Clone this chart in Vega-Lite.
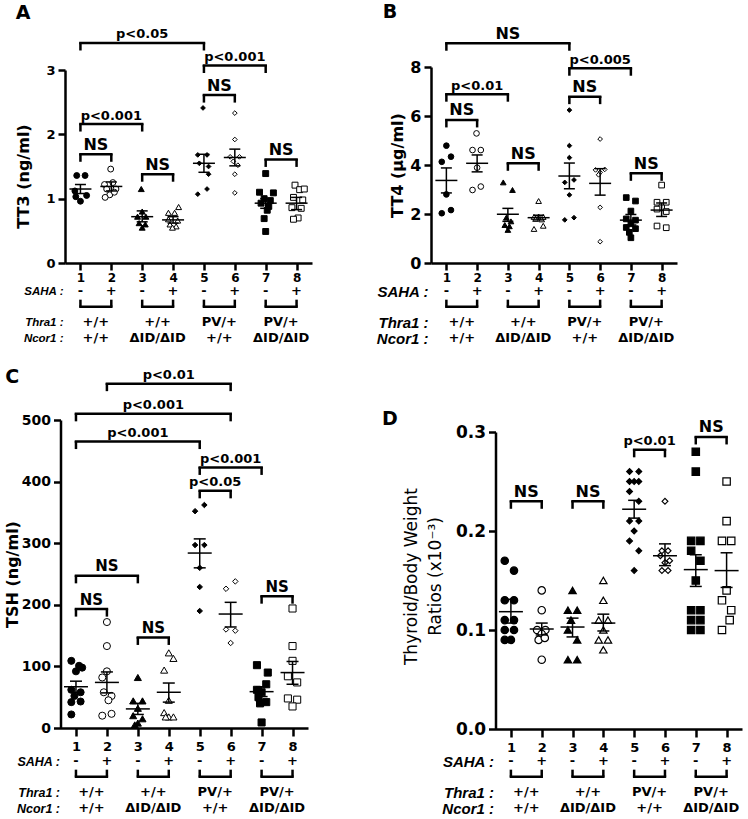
{
  "$schema": "https://vega.github.io/schema/vega-lite/v6.json",
  "width": 748,
  "height": 819,
  "autosize": {"type": "none"},
  "padding": 0,
  "background": "white",
  "config": {
    "view": {"stroke": null},
    "font": "DejaVu Sans",
    "axis": {"grid": false, "domainColor": "black", "domainWidth": 2.5, "tickColor": "black", "tickWidth": 2.5, "tickSize": 7, "labelColor": "black", "labelFont": "DejaVu Sans", "labelFontWeight": "bold", "titleColor": "black", "titleFont": "DejaVu Sans", "titleFontWeight": "bold", "labelPadding": 3, "labelFlush": false, "labelOverlap": false},
    "text": {"font": "DejaVu Sans", "fontWeight": "bold", "color": "black"},
    "tick": {"opacity": 1, "color": "black"},
    "rule": {"color": "black"},
    "point": {"opacity": 1}
  },
  "datasets": {
    "pts": [
      {"panel":"A","geno":"WT","saha":"-","x":0.88,"v":1.36},{"panel":"A","geno":"WT","saha":"-","x":1.15,"v":1.36},{"panel":"A","geno":"WT","saha":"-","x":0.82,"v":1.12},{"panel":"A","geno":"WT","saha":"-","x":1.2,"v":1.05},{"panel":"A","geno":"WT","saha":"-","x":0.85,"v":1.03},{"panel":"A","geno":"WT","saha":"-","x":1.0,"v":0.96},
      {"panel":"A","geno":"WT","saha":"+","x":1.98,"v":1.46},{"panel":"A","geno":"WT","saha":"+","x":1.78,"v":1.22},{"panel":"A","geno":"WT","saha":"+","x":2.05,"v":1.25},{"panel":"A","geno":"WT","saha":"+","x":1.85,"v":1.15},{"panel":"A","geno":"WT","saha":"+","x":2.15,"v":1.15},{"panel":"A","geno":"WT","saha":"+","x":1.95,"v":1.06},{"panel":"A","geno":"WT","saha":"+","x":1.8,"v":1.02},{"panel":"A","geno":"WT","saha":"+","x":2.1,"v":1.1},
      {"panel":"A","geno":"ID","saha":"-","x":2.97,"v":1.15},{"panel":"A","geno":"ID","saha":"-","x":3.0,"v":0.8},{"panel":"A","geno":"ID","saha":"-","x":2.85,"v":0.72},{"panel":"A","geno":"ID","saha":"-","x":3.12,"v":0.72},{"panel":"A","geno":"ID","saha":"-","x":2.9,"v":0.62},{"panel":"A","geno":"ID","saha":"-","x":3.1,"v":0.6},{"panel":"A","geno":"ID","saha":"-","x":3.0,"v":0.55},
      {"panel":"A","geno":"ID","saha":"+","x":4.18,"v":0.87},{"panel":"A","geno":"ID","saha":"+","x":3.85,"v":0.78},{"panel":"A","geno":"ID","saha":"+","x":4.05,"v":0.78},{"panel":"A","geno":"ID","saha":"+","x":4.15,"v":0.66},{"panel":"A","geno":"ID","saha":"+","x":3.9,"v":0.6},{"panel":"A","geno":"ID","saha":"+","x":4.1,"v":0.57},{"panel":"A","geno":"ID","saha":"+","x":3.98,"v":0.55},{"panel":"A","geno":"ID","saha":"+","x":3.85,"v":0.68},
      {"panel":"A","geno":"PV","saha":"-","x":4.97,"v":2.41},{"panel":"A","geno":"PV","saha":"-","x":4.8,"v":1.68},{"panel":"A","geno":"PV","saha":"-","x":5.1,"v":1.68},{"panel":"A","geno":"PV","saha":"-","x":4.85,"v":1.55},{"panel":"A","geno":"PV","saha":"-","x":5.15,"v":1.5},{"panel":"A","geno":"PV","saha":"-","x":5.15,"v":1.38},{"panel":"A","geno":"PV","saha":"-","x":4.8,"v":1.07},{"panel":"A","geno":"PV","saha":"-","x":5.1,"v":1.15},
      {"panel":"A","geno":"PV","saha":"+","x":6.0,"v":2.33},{"panel":"A","geno":"PV","saha":"+","x":6.0,"v":1.92},{"panel":"A","geno":"PV","saha":"+","x":5.85,"v":1.65},{"panel":"A","geno":"PV","saha":"+","x":6.15,"v":1.65},{"panel":"A","geno":"PV","saha":"+","x":5.95,"v":1.58},{"panel":"A","geno":"PV","saha":"+","x":6.1,"v":1.52},{"panel":"A","geno":"PV","saha":"+","x":6.0,"v":1.38},{"panel":"A","geno":"PV","saha":"+","x":6.0,"v":1.09},
      {"panel":"A","geno":"PVID","saha":"-","x":7.0,"v":1.39},{"panel":"A","geno":"PVID","saha":"-","x":6.8,"v":1.1},{"panel":"A","geno":"PVID","saha":"-","x":7.25,"v":1.09},{"panel":"A","geno":"PVID","saha":"-","x":6.95,"v":1.0},{"panel":"A","geno":"PVID","saha":"-","x":7.15,"v":0.97},{"panel":"A","geno":"PVID","saha":"-","x":6.85,"v":0.93},{"panel":"A","geno":"PVID","saha":"-","x":7.1,"v":0.88},{"panel":"A","geno":"PVID","saha":"-","x":7.05,"v":0.82},{"panel":"A","geno":"PVID","saha":"-","x":6.95,"v":0.69},{"panel":"A","geno":"PVID","saha":"-","x":7.0,"v":0.49},
      {"panel":"A","geno":"PVID","saha":"+","x":7.95,"v":1.21},{"panel":"A","geno":"PVID","saha":"+","x":8.1,"v":1.14},{"panel":"A","geno":"PVID","saha":"+","x":8.25,"v":1.15},{"panel":"A","geno":"PVID","saha":"+","x":7.9,"v":1.02},{"panel":"A","geno":"PVID","saha":"+","x":8.2,"v":0.98},{"panel":"A","geno":"PVID","saha":"+","x":7.85,"v":0.86},{"panel":"A","geno":"PVID","saha":"+","x":8.15,"v":0.85},{"panel":"A","geno":"PVID","saha":"+","x":8.05,"v":0.7},{"panel":"A","geno":"PVID","saha":"+","x":7.9,"v":0.68},

      {"panel":"B","geno":"WT","saha":"-","x":1.0,"v":4.79},{"panel":"B","geno":"WT","saha":"-","x":1.15,"v":4.34},{"panel":"B","geno":"WT","saha":"-","x":0.85,"v":4.13},{"panel":"B","geno":"WT","saha":"-","x":1.0,"v":2.8},{"panel":"B","geno":"WT","saha":"-","x":0.85,"v":2.03},{"panel":"B","geno":"WT","saha":"-","x":1.15,"v":2.16},
      {"panel":"B","geno":"WT","saha":"+","x":1.98,"v":5.29},{"panel":"B","geno":"WT","saha":"+","x":1.85,"v":4.61},{"panel":"B","geno":"WT","saha":"+","x":2.12,"v":4.61},{"panel":"B","geno":"WT","saha":"+","x":2.0,"v":3.89},{"panel":"B","geno":"WT","saha":"+","x":1.85,"v":2.98},{"panel":"B","geno":"WT","saha":"+","x":2.12,"v":3.12},
      {"panel":"B","geno":"ID","saha":"-","x":2.85,"v":3.29},{"panel":"B","geno":"ID","saha":"-","x":3.15,"v":2.98},{"panel":"B","geno":"ID","saha":"-","x":2.95,"v":1.85},{"panel":"B","geno":"ID","saha":"-","x":3.1,"v":1.7},{"panel":"B","geno":"ID","saha":"-","x":2.9,"v":1.55},{"panel":"B","geno":"ID","saha":"-","x":3.05,"v":1.5},{"panel":"B","geno":"ID","saha":"-","x":3.0,"v":1.35},
      {"panel":"B","geno":"ID","saha":"+","x":4.0,"v":2.53},{"panel":"B","geno":"ID","saha":"+","x":3.85,"v":1.88},{"panel":"B","geno":"ID","saha":"+","x":4.0,"v":1.9},{"panel":"B","geno":"ID","saha":"+","x":4.15,"v":1.88},{"panel":"B","geno":"ID","saha":"+","x":3.9,"v":1.8},{"panel":"B","geno":"ID","saha":"+","x":4.1,"v":1.78},{"panel":"B","geno":"ID","saha":"+","x":3.85,"v":1.39},{"panel":"B","geno":"ID","saha":"+","x":4.15,"v":1.52},
      {"panel":"B","geno":"PV","saha":"-","x":5.0,"v":6.24},{"panel":"B","geno":"PV","saha":"-","x":5.0,"v":4.79},{"panel":"B","geno":"PV","saha":"-","x":5.0,"v":4.3},{"panel":"B","geno":"PV","saha":"-","x":4.85,"v":3.29},{"panel":"B","geno":"PV","saha":"-","x":5.15,"v":3.39},{"panel":"B","geno":"PV","saha":"-","x":5.0,"v":2.78},{"panel":"B","geno":"PV","saha":"-","x":4.85,"v":1.76},{"panel":"B","geno":"PV","saha":"-","x":5.15,"v":1.85},
      {"panel":"B","geno":"PV","saha":"+","x":6.0,"v":5.06},{"panel":"B","geno":"PV","saha":"+","x":5.85,"v":3.8},{"panel":"B","geno":"PV","saha":"+","x":6.15,"v":3.82},{"panel":"B","geno":"PV","saha":"+","x":6.0,"v":3.7},{"panel":"B","geno":"PV","saha":"+","x":5.95,"v":3.6},{"panel":"B","geno":"PV","saha":"+","x":6.0,"v":2.27},{"panel":"B","geno":"PV","saha":"+","x":6.0,"v":0.87},
      {"panel":"B","geno":"PVID","saha":"-","x":6.85,"v":2.67},{"panel":"B","geno":"PVID","saha":"-","x":7.15,"v":2.53},{"panel":"B","geno":"PVID","saha":"-","x":7.0,"v":2.12},{"panel":"B","geno":"PVID","saha":"-","x":6.85,"v":1.8},{"panel":"B","geno":"PVID","saha":"-","x":7.15,"v":1.75},{"panel":"B","geno":"PVID","saha":"-","x":7.0,"v":1.6},{"panel":"B","geno":"PVID","saha":"-","x":6.85,"v":1.45},{"panel":"B","geno":"PVID","saha":"-","x":7.15,"v":1.4},{"panel":"B","geno":"PVID","saha":"-","x":6.95,"v":1.25},{"panel":"B","geno":"PVID","saha":"-","x":7.0,"v":1.03},
      {"panel":"B","geno":"PVID","saha":"+","x":8.0,"v":3.18},{"panel":"B","geno":"PVID","saha":"+","x":7.85,"v":2.48},{"panel":"B","geno":"PVID","saha":"+","x":8.15,"v":2.48},{"panel":"B","geno":"PVID","saha":"+","x":8.0,"v":2.25},{"panel":"B","geno":"PVID","saha":"+","x":7.85,"v":2.2},{"panel":"B","geno":"PVID","saha":"+","x":8.15,"v":2.1},{"panel":"B","geno":"PVID","saha":"+","x":7.85,"v":1.51},{"panel":"B","geno":"PVID","saha":"+","x":8.15,"v":1.44},

      {"panel":"C","geno":"WT","saha":"-","x":0.85,"v":109},{"panel":"C","geno":"WT","saha":"-","x":1.1,"v":101},{"panel":"C","geno":"WT","saha":"-","x":1.2,"v":98},{"panel":"C","geno":"WT","saha":"-","x":1.0,"v":92},{"panel":"C","geno":"WT","saha":"-","x":0.85,"v":62},{"panel":"C","geno":"WT","saha":"-","x":1.15,"v":58},{"panel":"C","geno":"WT","saha":"-","x":0.95,"v":52},{"panel":"C","geno":"WT","saha":"-","x":1.15,"v":43},{"panel":"C","geno":"WT","saha":"-","x":0.85,"v":42},{"panel":"C","geno":"WT","saha":"-","x":0.85,"v":22},
      {"panel":"C","geno":"WT","saha":"+","x":2.0,"v":172},{"panel":"C","geno":"WT","saha":"+","x":2.0,"v":133},{"panel":"C","geno":"WT","saha":"+","x":2.0,"v":92},{"panel":"C","geno":"WT","saha":"+","x":1.85,"v":82},{"panel":"C","geno":"WT","saha":"+","x":1.9,"v":58},{"panel":"C","geno":"WT","saha":"+","x":2.15,"v":52},{"panel":"C","geno":"WT","saha":"+","x":2.05,"v":45},{"panel":"C","geno":"WT","saha":"+","x":1.85,"v":20},{"panel":"C","geno":"WT","saha":"+","x":2.15,"v":23},
      {"panel":"C","geno":"ID","saha":"-","x":3.0,"v":82},{"panel":"C","geno":"ID","saha":"-","x":2.85,"v":44},{"panel":"C","geno":"ID","saha":"-","x":3.15,"v":44},{"panel":"C","geno":"ID","saha":"-","x":3.0,"v":32},{"panel":"C","geno":"ID","saha":"-","x":2.85,"v":20},{"panel":"C","geno":"ID","saha":"-","x":3.15,"v":15},{"panel":"C","geno":"ID","saha":"-","x":3.0,"v":8},{"panel":"C","geno":"ID","saha":"-","x":2.9,"v":5},
      {"panel":"C","geno":"ID","saha":"+","x":4.0,"v":122},{"panel":"C","geno":"ID","saha":"+","x":4.15,"v":113},{"panel":"C","geno":"ID","saha":"+","x":3.85,"v":94},{"panel":"C","geno":"ID","saha":"+","x":4.0,"v":45},{"panel":"C","geno":"ID","saha":"+","x":3.85,"v":25},{"panel":"C","geno":"ID","saha":"+","x":4.0,"v":18},{"panel":"C","geno":"ID","saha":"+","x":4.15,"v":18},{"panel":"C","geno":"ID","saha":"+","x":3.9,"v":18},
      {"panel":"C","geno":"PV","saha":"-","x":4.85,"v":352},{"panel":"C","geno":"PV","saha":"-","x":5.15,"v":362},{"panel":"C","geno":"PV","saha":"-","x":4.85,"v":297},{"panel":"C","geno":"PV","saha":"-","x":5.15,"v":297},{"panel":"C","geno":"PV","saha":"-","x":5.0,"v":260},{"panel":"C","geno":"PV","saha":"-","x":5.0,"v":229},{"panel":"C","geno":"PV","saha":"-","x":5.0,"v":190},
      {"panel":"C","geno":"PV","saha":"+","x":5.85,"v":226},{"panel":"C","geno":"PV","saha":"+","x":6.15,"v":238},{"panel":"C","geno":"PV","saha":"+","x":5.85,"v":160},{"panel":"C","geno":"PV","saha":"+","x":6.15,"v":158},{"panel":"C","geno":"PV","saha":"+","x":6.0,"v":138},
      {"panel":"C","geno":"PVID","saha":"-","x":6.85,"v":102},{"panel":"C","geno":"PVID","saha":"-","x":7.2,"v":90},{"panel":"C","geno":"PVID","saha":"-","x":7.15,"v":71},{"panel":"C","geno":"PVID","saha":"-","x":6.85,"v":62},{"panel":"C","geno":"PVID","saha":"-","x":7.0,"v":58},{"panel":"C","geno":"PVID","saha":"-","x":6.9,"v":50},{"panel":"C","geno":"PVID","saha":"-","x":7.15,"v":42},{"panel":"C","geno":"PVID","saha":"-","x":6.95,"v":40},{"panel":"C","geno":"PVID","saha":"-","x":7.0,"v":9},
      {"panel":"C","geno":"PVID","saha":"+","x":8.0,"v":194},{"panel":"C","geno":"PVID","saha":"+","x":8.0,"v":133},{"panel":"C","geno":"PVID","saha":"+","x":8.0,"v":109},{"panel":"C","geno":"PVID","saha":"+","x":7.85,"v":84},{"panel":"C","geno":"PVID","saha":"+","x":8.15,"v":74},{"panel":"C","geno":"PVID","saha":"+","x":7.85,"v":48},{"panel":"C","geno":"PVID","saha":"+","x":8.15,"v":46},{"panel":"C","geno":"PVID","saha":"+","x":8.0,"v":35},

      {"panel":"D","geno":"WT","saha":"-","x":0.8,"v":0.17},{"panel":"D","geno":"WT","saha":"-","x":1.1,"v":0.16},{"panel":"D","geno":"WT","saha":"-","x":0.8,"v":0.13},{"panel":"D","geno":"WT","saha":"-","x":1.1,"v":0.13},{"panel":"D","geno":"WT","saha":"-","x":0.8,"v":0.11},{"panel":"D","geno":"WT","saha":"-","x":1.1,"v":0.11},{"panel":"D","geno":"WT","saha":"-","x":0.8,"v":0.1},{"panel":"D","geno":"WT","saha":"-","x":1.1,"v":0.1},{"panel":"D","geno":"WT","saha":"-","x":0.8,"v":0.09},{"panel":"D","geno":"WT","saha":"-","x":1.0,"v":0.09},
      {"panel":"D","geno":"WT","saha":"+","x":2.0,"v":0.14},{"panel":"D","geno":"WT","saha":"+","x":2.0,"v":0.12},{"panel":"D","geno":"WT","saha":"+","x":1.85,"v":0.1},{"panel":"D","geno":"WT","saha":"+","x":2.12,"v":0.1},{"panel":"D","geno":"WT","saha":"+","x":2.0,"v":0.096},{"panel":"D","geno":"WT","saha":"+","x":1.9,"v":0.09},{"panel":"D","geno":"WT","saha":"+","x":2.0,"v":0.07},{"panel":"D","geno":"WT","saha":"+","x":2.1,"v":0.092},
      {"panel":"D","geno":"ID","saha":"-","x":3.0,"v":0.14},{"panel":"D","geno":"ID","saha":"-","x":2.85,"v":0.12},{"panel":"D","geno":"ID","saha":"-","x":3.15,"v":0.12},{"panel":"D","geno":"ID","saha":"-","x":2.95,"v":0.11},{"panel":"D","geno":"ID","saha":"-","x":2.85,"v":0.1},{"panel":"D","geno":"ID","saha":"-","x":3.15,"v":0.09},{"panel":"D","geno":"ID","saha":"-","x":2.85,"v":0.07},{"panel":"D","geno":"ID","saha":"-","x":3.15,"v":0.07},
      {"panel":"D","geno":"ID","saha":"+","x":4.0,"v":0.15},{"panel":"D","geno":"ID","saha":"+","x":4.0,"v":0.13},{"panel":"D","geno":"ID","saha":"+","x":3.85,"v":0.11},{"panel":"D","geno":"ID","saha":"+","x":4.15,"v":0.11},{"panel":"D","geno":"ID","saha":"+","x":4.0,"v":0.1},{"panel":"D","geno":"ID","saha":"+","x":3.85,"v":0.09},{"panel":"D","geno":"ID","saha":"+","x":4.15,"v":0.09},{"panel":"D","geno":"ID","saha":"+","x":4.0,"v":0.08},
      {"panel":"D","geno":"PV","saha":"-","x":4.85,"v":0.26},{"panel":"D","geno":"PV","saha":"-","x":5.15,"v":0.26},{"panel":"D","geno":"PV","saha":"-","x":4.85,"v":0.25},{"panel":"D","geno":"PV","saha":"-","x":5.0,"v":0.25},{"panel":"D","geno":"PV","saha":"-","x":5.15,"v":0.25},{"panel":"D","geno":"PV","saha":"-","x":4.85,"v":0.24},{"panel":"D","geno":"PV","saha":"-","x":5.15,"v":0.23},{"panel":"D","geno":"PV","saha":"-","x":4.85,"v":0.21},{"panel":"D","geno":"PV","saha":"-","x":5.15,"v":0.21},{"panel":"D","geno":"PV","saha":"-","x":5.0,"v":0.2},{"panel":"D","geno":"PV","saha":"-","x":4.85,"v":0.19},{"panel":"D","geno":"PV","saha":"-","x":5.15,"v":0.18},{"panel":"D","geno":"PV","saha":"-","x":5.0,"v":0.16},
      {"panel":"D","geno":"PV","saha":"+","x":6.0,"v":0.23},{"panel":"D","geno":"PV","saha":"+","x":5.9,"v":0.18},{"panel":"D","geno":"PV","saha":"+","x":6.1,"v":0.18},{"panel":"D","geno":"PV","saha":"+","x":5.85,"v":0.175},{"panel":"D","geno":"PV","saha":"+","x":6.15,"v":0.17},{"panel":"D","geno":"PV","saha":"+","x":6.0,"v":0.168},{"panel":"D","geno":"PV","saha":"+","x":5.9,"v":0.16},{"panel":"D","geno":"PV","saha":"+","x":6.1,"v":0.16},
      {"panel":"D","geno":"PVID","saha":"-","x":7.0,"v":0.28},{"panel":"D","geno":"PVID","saha":"-","x":7.0,"v":0.26},{"panel":"D","geno":"PVID","saha":"-","x":6.85,"v":0.19},{"panel":"D","geno":"PVID","saha":"-","x":7.15,"v":0.19},{"panel":"D","geno":"PVID","saha":"-","x":6.85,"v":0.18},{"panel":"D","geno":"PVID","saha":"-","x":7.15,"v":0.17},{"panel":"D","geno":"PVID","saha":"-","x":7.0,"v":0.15},{"panel":"D","geno":"PVID","saha":"-","x":6.85,"v":0.12},{"panel":"D","geno":"PVID","saha":"-","x":7.15,"v":0.12},{"panel":"D","geno":"PVID","saha":"-","x":6.85,"v":0.11},{"panel":"D","geno":"PVID","saha":"-","x":7.15,"v":0.11},{"panel":"D","geno":"PVID","saha":"-","x":6.85,"v":0.1},{"panel":"D","geno":"PVID","saha":"-","x":7.15,"v":0.1},
      {"panel":"D","geno":"PVID","saha":"+","x":8.0,"v":0.25},{"panel":"D","geno":"PVID","saha":"+","x":8.0,"v":0.21},{"panel":"D","geno":"PVID","saha":"+","x":7.85,"v":0.19},{"panel":"D","geno":"PVID","saha":"+","x":8.15,"v":0.19},{"panel":"D","geno":"PVID","saha":"+","x":8.0,"v":0.14},{"panel":"D","geno":"PVID","saha":"+","x":7.85,"v":0.13},{"panel":"D","geno":"PVID","saha":"+","x":8.15,"v":0.12},{"panel":"D","geno":"PVID","saha":"+","x":8.1,"v":0.11},{"panel":"D","geno":"PVID","saha":"+","x":7.85,"v":0.1}
    ],
    "sum": [
      {"panel":"A","g":1,"mean":1.15,"lo":1.08,"hi":1.22},{"panel":"A","g":2,"mean":1.19,"lo":1.12,"hi":1.26},{"panel":"A","g":3,"mean":0.72,"lo":0.64,"hi":0.81},{"panel":"A","g":4,"mean":0.67,"lo":0.62,"hi":0.72},{"panel":"A","g":5,"mean":1.55,"lo":1.41,"hi":1.69},{"panel":"A","g":6,"mean":1.64,"lo":1.51,"hi":1.77},{"panel":"A","g":7,"mean":0.93,"lo":0.85,"hi":1.0},{"panel":"A","g":8,"mean":0.93,"lo":0.83,"hi":1.02},
      {"panel":"B","g":1,"mean":3.37,"lo":2.86,"hi":3.88},{"panel":"B","g":2,"mean":4.07,"lo":3.72,"hi":4.41},{"panel":"B","g":3,"mean":1.99,"lo":1.7,"hi":2.23},{"panel":"B","g":4,"mean":1.85,"lo":1.76,"hi":1.95},{"panel":"B","g":5,"mean":3.55,"lo":3.03,"hi":4.08},{"panel":"B","g":6,"mean":3.25,"lo":2.77,"hi":3.85},{"panel":"B","g":7,"mean":1.75,"lo":1.55,"hi":1.98},{"panel":"B","g":8,"mean":2.16,"lo":1.9,"hi":2.45},
      {"panel":"C","g":1,"mean":67,"lo":58,"hi":76},{"panel":"C","g":2,"mean":74,"lo":57,"hi":91},{"panel":"C","g":3,"mean":31,"lo":22,"hi":40},{"panel":"C","g":4,"mean":58,"lo":42,"hi":73},{"panel":"C","g":5,"mean":284,"lo":260,"hi":307},{"panel":"C","g":6,"mean":185,"lo":164,"hi":204},{"panel":"C","g":7,"mean":59,"lo":51,"hi":67},{"panel":"C","g":8,"mean":90,"lo":71,"hi":108},
      {"panel":"D","g":1,"mean":0.1185,"lo":0.107,"hi":0.131},{"panel":"D","g":2,"mean":0.101,"lo":0.095,"hi":0.107},{"panel":"D","g":3,"mean":0.103,"lo":0.093,"hi":0.112},{"panel":"D","g":4,"mean":0.107,"lo":0.099,"hi":0.116},{"panel":"D","g":5,"mean":0.222,"lo":0.213,"hi":0.231},{"panel":"D","g":6,"mean":0.175,"lo":0.165,"hi":0.187},{"panel":"D","g":7,"mean":0.161,"lo":0.144,"hi":0.176},{"panel":"D","g":8,"mean":0.16,"lo":0.143,"hi":0.178}
    ],
    "brk": [
      {"panel":"A","from":1,"to":5,"h":3.42,"mid":3,"label":"p<0.05"},{"panel":"A","from":5,"to":7,"h":3.07,"mid":6,"label":"p<0.001"},{"panel":"A","from":5,"to":6,"h":2.61,"mid":5.5,"label":"NS"},{"panel":"A","from":1,"to":3,"h":2.16,"mid":2,"label":"p<0.001"},{"panel":"A","from":1,"to":2,"h":1.69,"mid":1.5,"label":"NS"},{"panel":"A","from":3,"to":4,"h":1.38,"mid":3.5,"label":"NS"},{"panel":"A","from":7,"to":8,"h":1.61,"mid":7.5,"label":"NS"},
      {"panel":"B","from":1,"to":5,"h":8.97,"mid":3,"label":"NS"},{"panel":"B","from":5,"to":7,"h":7.95,"mid":6,"label":"p<0.005"},{"panel":"B","from":5,"to":6,"h":6.79,"mid":5.5,"label":"NS"},{"panel":"B","from":1,"to":3,"h":6.89,"mid":2,"label":"p<0.01"},{"panel":"B","from":1,"to":2,"h":5.84,"mid":1.5,"label":"NS"},{"panel":"B","from":3,"to":4,"h":4.07,"mid":3.5,"label":"NS"},{"panel":"B","from":7,"to":8,"h":3.66,"mid":7.5,"label":"NS"},
      {"panel":"C","from":2,"to":6,"h":559,"mid":4,"label":"p<0.01"},{"panel":"C","from":1,"to":6,"h":510,"mid":3.5,"label":"p<0.001"},{"panel":"C","from":1,"to":5,"h":465,"mid":3,"label":"p<0.001"},{"panel":"C","from":5,"to":7,"h":423,"mid":6,"label":"p<0.001"},{"panel":"C","from":5,"to":6,"h":385,"mid":5.5,"label":"p<0.05"},{"panel":"C","from":1,"to":3,"h":247,"mid":2,"label":"NS"},{"panel":"C","from":1,"to":2,"h":193,"mid":1.5,"label":"NS"},{"panel":"C","from":3,"to":4,"h":147,"mid":3.5,"label":"NS"},{"panel":"C","from":7,"to":8,"h":214,"mid":7.5,"label":"NS"},
      {"panel":"D","from":1,"to":2,"h":0.23,"mid":1.5,"label":"NS"},{"panel":"D","from":3,"to":4,"h":0.23,"mid":3.5,"label":"NS"},{"panel":"D","from":5,"to":6,"h":0.282,"mid":5.5,"label":"p<0.01"},{"panel":"D","from":7,"to":8,"h":0.295,"mid":7.5,"label":"NS"}
    ],
    "ann": [
      {"kind":"sign","row":"SAHA","x":1,"t":"-"},{"kind":"sign","row":"SAHA","x":2,"t":"+"},{"kind":"sign","row":"SAHA","x":3,"t":"-"},{"kind":"sign","row":"SAHA","x":4,"t":"+"},{"kind":"sign","row":"SAHA","x":5,"t":"-"},{"kind":"sign","row":"SAHA","x":6,"t":"+"},{"kind":"sign","row":"SAHA","x":7,"t":"-"},{"kind":"sign","row":"SAHA","x":8,"t":"+"},
      {"kind":"pair","row":"pair","from":1,"to":2},{"kind":"pair","row":"pair","from":3,"to":4},{"kind":"pair","row":"pair","from":5,"to":6},{"kind":"pair","row":"pair","from":7,"to":8},
      {"kind":"geno","row":"Thra1","x":1.5,"t":"+/+"},{"kind":"geno","row":"Thra1","x":3.5,"t":"+/+"},{"kind":"geno","row":"Thra1","x":5.5,"t":"PV/+"},{"kind":"geno","row":"Thra1","x":7.5,"t":"PV/+"},
      {"kind":"geno","row":"Ncor1","x":1.5,"t":"+/+"},{"kind":"geno","row":"Ncor1","x":3.5,"t":"ΔID/ΔID"},{"kind":"geno","row":"Ncor1","x":5.5,"t":"+/+"},{"kind":"geno","row":"Ncor1","x":7.5,"t":"ΔID/ΔID"}
    ]
  },
  "layer": [
    {"data":{"name":"pts"},"transform":[{"filter":"datum.panel=='A'"}],
     "mark":{"type":"point","filled":true,"stroke":"black","strokeWidth":1,"opacity":1},
     "encoding":{
       "x":{"field":"x","type":"quantitative","scale":{"domain":[0.5,8.5],"range":[65,312]},"axis":{"orient":"bottom","offset":-556,"values":[1,2,3,4,5,6,7,8],"labelFontSize":12,"labelPadding":2,"title":null}},
       "y":{"field":"v","type":"quantitative","scale":{"domain":[0,3],"range":[263,70]},"axis":{"orient":"left","offset":-65,"values":[0,1,2,3],"labelFontSize":13,"title":"TT3 (ng/ml)","titleFontSize":16,"titlePadding":14,"titleY":176}},
       "shape":{"field":"geno","type":"nominal","scale":{"domain":["WT","ID","PV","PVID"],"range":["circle","triangle-up","diamond","square"]},"legend":null},
       "fill":{"field":"saha","type":"nominal","scale":{"domain":["-","+"],"range":["black","white"]},"legend":null},
       "size":{"condition":{"test":"datum.geno=='PV'","value":22},"value":35}}},
    {"data":{"name":"sum"},"transform":[{"filter":"datum.panel=='A'"}],
     "mark":{"type":"tick","orient":"horizontal","size":22,"thickness":1.5},
     "encoding":{"x":{"field":"g","type":"quantitative","scale":{"domain":[0.5,8.5],"range":[65,312]},"axis":null},"y":{"field":"mean","type":"quantitative","scale":{"domain":[0,3],"range":[263,70]},"axis":null}}},
    {"data":{"name":"sum"},"transform":[{"filter":"datum.panel=='A'"}],
     "mark":{"type":"rule","strokeWidth":1.5},
     "encoding":{"x":{"field":"g","type":"quantitative","scale":{"domain":[0.5,8.5],"range":[65,312]},"axis":null},"y":{"field":"lo","type":"quantitative","scale":{"domain":[0,3],"range":[263,70]},"axis":null},"y2":{"field":"hi"}}},
    {"data":{"name":"sum"},"transform":[{"filter":"datum.panel=='A'"},{"fold":["lo","hi"],"as":["k","yv"]}],
     "mark":{"type":"tick","orient":"horizontal","size":11,"thickness":1.5},
     "encoding":{"x":{"field":"g","type":"quantitative","scale":{"domain":[0.5,8.5],"range":[65,312]},"axis":null},"y":{"field":"yv","type":"quantitative","scale":{"domain":[0,3],"range":[263,70]},"axis":null}}},
    {"data":{"name":"brk"},"transform":[{"filter":"datum.panel=='A'"}],
     "mark":{"type":"rule","strokeWidth":2.5,"strokeCap":"square"},
     "encoding":{"x":{"field":"from","type":"quantitative","scale":{"domain":[0.5,8.5],"range":[65,312]},"axis":null},"x2":{"field":"to"},"y":{"field":"h","type":"quantitative","scale":{"domain":[0,3],"range":[263,70]},"axis":null}}},
    {"data":{"name":"brk"},"transform":[{"filter":"datum.panel=='A'"},{"fold":["from","to"],"as":["k","xe"]}],
     "mark":{"type":"tick","orient":"vertical","size":8,"thickness":2.5,"yOffset":3.5},
     "encoding":{"x":{"field":"xe","type":"quantitative","scale":{"domain":[0.5,8.5],"range":[65,312]},"axis":null},"y":{"field":"h","type":"quantitative","scale":{"domain":[0,3],"range":[263,70]},"axis":null}}},
    {"data":{"name":"brk"},"transform":[{"filter":"datum.panel=='A'"}],
     "mark":{"type":"text","baseline":"alphabetic","align":"center","dy":-4.5},
     "encoding":{"x":{"field":"mid","type":"quantitative","scale":{"domain":[0.5,8.5],"range":[65,312]},"axis":null},"y":{"field":"h","type":"quantitative","scale":{"domain":[0,3],"range":[263,70]},"axis":null},"text":{"field":"label"},
       "size":{"condition":{"test":"datum.label=='NS'","value":16},"value":13}}},
    {"data":{"values":[{"t":"A"}]},
     "mark":{"type":"text","fontSize":19,"baseline":"middle","align":"center"},
     "encoding":{"x":{"datum":-0.86,"type":"quantitative","scale":{"domain":[0.5,8.5],"range":[65,312]},"axis":null},"y":{"datum":3.89,"type":"quantitative","scale":{"domain":[0,3],"range":[263,70]},"axis":null},"text":{"field":"t"}}},
    {"data":{"name":"ann"},"transform":[{"filter":"datum.kind!='pair'"}],
     "mark":{"type":"text","fontSize":13,"baseline":"middle","align":"center"},
     "encoding":{"x":{"field":"x","type":"quantitative","scale":{"domain":[0.5,8.5],"range":[65,312]},"axis":null},
       "y":{"field":"row","type":"nominal","scale":{"type":"point","domain":["SAHA","pair","Thra1","Ncor1"],"range":[291,338],"padding":0},
            "axis":{"orient":"left","offset":-65,"domain":false,"ticks":false,"labelPadding":2,"labelExpr":"datum.value == 'pair' ? '' : datum.value + ' :'","labelFont":"Liberation Sans","labelFontStyle":"italic","labelFontWeight":"bold","labelFontSize":11.5,"title":null}},
       "text":{"field":"t"}}},
    {"data":{"name":"ann"},"transform":[{"filter":"datum.kind=='pair'"}],
     "mark":{"type":"rule","strokeWidth":2.5,"strokeCap":"square"},
     "encoding":{"x":{"field":"from","type":"quantitative","scale":{"domain":[0.5,8.5],"range":[65,312]},"axis":null},"x2":{"field":"to"},"y":{"field":"row","type":"nominal","scale":{"type":"point","domain":["SAHA","pair","Thra1","Ncor1"],"range":[291,338],"padding":0},"axis":null}}},
    {"data":{"name":"ann"},"transform":[{"filter":"datum.kind=='pair'"},{"fold":["from","to"],"as":["k","xe"]}],
     "mark":{"type":"rule","strokeWidth":2.5,"y2Offset":-7},
     "encoding":{"x":{"field":"xe","type":"quantitative","scale":{"domain":[0.5,8.5],"range":[65,312]},"axis":null},"y":{"field":"row","type":"nominal","scale":{"type":"point","domain":["SAHA","pair","Thra1","Ncor1"],"range":[291,338],"padding":0},"axis":null},"y2":{"field":"row"}}},

    {"data":{"name":"pts"},"transform":[{"filter":"datum.panel=='B'"}],
     "mark":{"type":"point","filled":true,"stroke":"black","strokeWidth":1,"opacity":1},
     "encoding":{
       "x":{"field":"x","type":"quantitative","scale":{"domain":[0.5,8.5],"range":[431,677]},"axis":{"orient":"bottom","offset":-556,"values":[1,2,3,4,5,6,7,8],"labelFontSize":12,"labelPadding":2,"title":null}},
       "y":{"field":"v","type":"quantitative","scale":{"domain":[0,8],"range":[263,67]},"axis":{"orient":"left","offset":-431,"values":[0,2,4,6,8],"labelFontSize":16,"title":"TT4 (μg/ml)","titleFontSize":16,"titlePadding":4}},
       "shape":{"field":"geno","type":"nominal","scale":{"domain":["WT","ID","PV","PVID"],"range":["circle","triangle-up","diamond","square"]},"legend":null},
       "fill":{"field":"saha","type":"nominal","scale":{"domain":["-","+"],"range":["black","white"]},"legend":null},
       "size":{"condition":{"test":"datum.geno=='PV'","value":22},"value":32}}},
    {"data":{"name":"sum"},"transform":[{"filter":"datum.panel=='B'"}],
     "mark":{"type":"tick","orient":"horizontal","size":22,"thickness":1.5},
     "encoding":{"x":{"field":"g","type":"quantitative","scale":{"domain":[0.5,8.5],"range":[431,677]},"axis":null},"y":{"field":"mean","type":"quantitative","scale":{"domain":[0,8],"range":[263,67]},"axis":null}}},
    {"data":{"name":"sum"},"transform":[{"filter":"datum.panel=='B'"}],
     "mark":{"type":"rule","strokeWidth":1.5},
     "encoding":{"x":{"field":"g","type":"quantitative","scale":{"domain":[0.5,8.5],"range":[431,677]},"axis":null},"y":{"field":"lo","type":"quantitative","scale":{"domain":[0,8],"range":[263,67]},"axis":null},"y2":{"field":"hi"}}},
    {"data":{"name":"sum"},"transform":[{"filter":"datum.panel=='B'"},{"fold":["lo","hi"],"as":["k","yv"]}],
     "mark":{"type":"tick","orient":"horizontal","size":11,"thickness":1.5},
     "encoding":{"x":{"field":"g","type":"quantitative","scale":{"domain":[0.5,8.5],"range":[431,677]},"axis":null},"y":{"field":"yv","type":"quantitative","scale":{"domain":[0,8],"range":[263,67]},"axis":null}}},
    {"data":{"name":"brk"},"transform":[{"filter":"datum.panel=='B'"}],
     "mark":{"type":"rule","strokeWidth":2.5,"strokeCap":"square"},
     "encoding":{"x":{"field":"from","type":"quantitative","scale":{"domain":[0.5,8.5],"range":[431,677]},"axis":null},"x2":{"field":"to"},"y":{"field":"h","type":"quantitative","scale":{"domain":[0,8],"range":[263,67]},"axis":null}}},
    {"data":{"name":"brk"},"transform":[{"filter":"datum.panel=='B'"},{"fold":["from","to"],"as":["k","xe"]}],
     "mark":{"type":"tick","orient":"vertical","size":8,"thickness":2.5,"yOffset":3.5},
     "encoding":{"x":{"field":"xe","type":"quantitative","scale":{"domain":[0.5,8.5],"range":[431,677]},"axis":null},"y":{"field":"h","type":"quantitative","scale":{"domain":[0,8],"range":[263,67]},"axis":null}}},
    {"data":{"name":"brk"},"transform":[{"filter":"datum.panel=='B'"}],
     "mark":{"type":"text","baseline":"alphabetic","align":"center","dy":-4.5},
     "encoding":{"x":{"field":"mid","type":"quantitative","scale":{"domain":[0.5,8.5],"range":[431,677]},"axis":null},"y":{"field":"h","type":"quantitative","scale":{"domain":[0,8],"range":[263,67]},"axis":null},"text":{"field":"label"},
       "size":{"condition":{"test":"datum.label=='NS'","value":16},"value":13}}},
    {"data":{"values":[{"t":"B"}]},
     "mark":{"type":"text","fontSize":19,"baseline":"middle","align":"center"},
     "encoding":{"x":{"datum":-0.83,"type":"quantitative","scale":{"domain":[0.5,8.5],"range":[431,677]},"axis":null},"y":{"datum":10.24,"type":"quantitative","scale":{"domain":[0,8],"range":[263,67]},"axis":null},"text":{"field":"t"}}},
    {"data":{"name":"ann"},"transform":[{"filter":"datum.kind!='pair'"}],
     "mark":{"type":"text","fontSize":13,"baseline":"middle","align":"center"},
     "encoding":{"x":{"field":"x","type":"quantitative","scale":{"domain":[0.5,8.5],"range":[431,677]},"axis":null},
       "y":{"field":"row","type":"nominal","scale":{"type":"point","domain":["SAHA","pair","Thra1","Ncor1"],"range":[291,338],"padding":0},
            "axis":{"orient":"left","offset":-431,"domain":false,"ticks":false,"labelPadding":3,"labelExpr":"datum.value == 'pair' ? '' : datum.value + ' :'","labelFont":"Liberation Sans","labelFontStyle":"italic","labelFontWeight":"bold","labelFontSize":15,"title":null}},
       "text":{"field":"t"}}},
    {"data":{"name":"ann"},"transform":[{"filter":"datum.kind=='pair'"}],
     "mark":{"type":"rule","strokeWidth":2.5,"strokeCap":"square"},
     "encoding":{"x":{"field":"from","type":"quantitative","scale":{"domain":[0.5,8.5],"range":[431,677]},"axis":null},"x2":{"field":"to"},"y":{"field":"row","type":"nominal","scale":{"type":"point","domain":["SAHA","pair","Thra1","Ncor1"],"range":[291,338],"padding":0},"axis":null}}},
    {"data":{"name":"ann"},"transform":[{"filter":"datum.kind=='pair'"},{"fold":["from","to"],"as":["k","xe"]}],
     "mark":{"type":"rule","strokeWidth":2.5,"y2Offset":-7},
     "encoding":{"x":{"field":"xe","type":"quantitative","scale":{"domain":[0.5,8.5],"range":[431,677]},"axis":null},"y":{"field":"row","type":"nominal","scale":{"type":"point","domain":["SAHA","pair","Thra1","Ncor1"],"range":[291,338],"padding":0},"axis":null},"y2":{"field":"row"}}},

    {"data":{"name":"pts"},"transform":[{"filter":"datum.panel=='C'"}],
     "mark":{"type":"point","filled":true,"stroke":"black","strokeWidth":1,"opacity":1},
     "encoding":{
       "x":{"field":"x","type":"quantitative","scale":{"domain":[0.5,8.5],"range":[60.5,308]},"axis":{"orient":"bottom","offset":-91,"values":[1,2,3,4,5,6,7,8],"labelFontSize":13,"labelPadding":4,"tickSize":8,"title":null}},
       "y":{"field":"v","type":"quantitative","scale":{"domain":[0,500],"range":[728,420]},"axis":{"orient":"left","offset":-60.5,"values":[0,100,200,300,400,500],"labelFontSize":14,"title":"TSH (ng/ml)","titleFontSize":16,"titlePadding":1}},
       "shape":{"field":"geno","type":"nominal","scale":{"domain":["WT","ID","PV","PVID"],"range":["circle","triangle-up","diamond","square"]},"legend":null},
       "fill":{"field":"saha","type":"nominal","scale":{"domain":["-","+"],"range":["black","white"]},"legend":null},
       "size":{"condition":{"test":"datum.geno=='PV'","value":30},"value":50}}},
    {"data":{"name":"sum"},"transform":[{"filter":"datum.panel=='C'"}],
     "mark":{"type":"tick","orient":"horizontal","size":24,"thickness":1.5},
     "encoding":{"x":{"field":"g","type":"quantitative","scale":{"domain":[0.5,8.5],"range":[60.5,308]},"axis":null},"y":{"field":"mean","type":"quantitative","scale":{"domain":[0,500],"range":[728,420]},"axis":null}}},
    {"data":{"name":"sum"},"transform":[{"filter":"datum.panel=='C'"}],
     "mark":{"type":"rule","strokeWidth":1.5},
     "encoding":{"x":{"field":"g","type":"quantitative","scale":{"domain":[0.5,8.5],"range":[60.5,308]},"axis":null},"y":{"field":"lo","type":"quantitative","scale":{"domain":[0,500],"range":[728,420]},"axis":null},"y2":{"field":"hi"}}},
    {"data":{"name":"sum"},"transform":[{"filter":"datum.panel=='C'"},{"fold":["lo","hi"],"as":["k","yv"]}],
     "mark":{"type":"tick","orient":"horizontal","size":12,"thickness":1.5},
     "encoding":{"x":{"field":"g","type":"quantitative","scale":{"domain":[0.5,8.5],"range":[60.5,308]},"axis":null},"y":{"field":"yv","type":"quantitative","scale":{"domain":[0,500],"range":[728,420]},"axis":null}}},
    {"data":{"name":"brk"},"transform":[{"filter":"datum.panel=='C'"}],
     "mark":{"type":"rule","strokeWidth":2.5,"strokeCap":"square"},
     "encoding":{"x":{"field":"from","type":"quantitative","scale":{"domain":[0.5,8.5],"range":[60.5,308]},"axis":null},"x2":{"field":"to"},"y":{"field":"h","type":"quantitative","scale":{"domain":[0,500],"range":[728,420]},"axis":null}}},
    {"data":{"name":"brk"},"transform":[{"filter":"datum.panel=='C'"},{"fold":["from","to"],"as":["k","xe"]}],
     "mark":{"type":"tick","orient":"vertical","size":8,"thickness":2.5,"yOffset":3.5},
     "encoding":{"x":{"field":"xe","type":"quantitative","scale":{"domain":[0.5,8.5],"range":[60.5,308]},"axis":null},"y":{"field":"h","type":"quantitative","scale":{"domain":[0,500],"range":[728,420]},"axis":null}}},
    {"data":{"name":"brk"},"transform":[{"filter":"datum.panel=='C'"}],
     "mark":{"type":"text","baseline":"alphabetic","align":"center","dy":-4.5},
     "encoding":{"x":{"field":"mid","type":"quantitative","scale":{"domain":[0.5,8.5],"range":[60.5,308]},"axis":null},"y":{"field":"h","type":"quantitative","scale":{"domain":[0,500],"range":[728,420]},"axis":null},"text":{"field":"label"},
       "size":{"condition":{"test":"datum.label=='NS'","value":15},"value":13}}},
    {"data":{"values":[{"t":"C"}]},
     "mark":{"type":"text","fontSize":19,"baseline":"middle","align":"center"},
     "encoding":{"x":{"datum":-1.06,"type":"quantitative","scale":{"domain":[0.5,8.5],"range":[60.5,308]},"axis":null},"y":{"datum":570,"type":"quantitative","scale":{"domain":[0,500],"range":[728,420]},"axis":null},"text":{"field":"t"}}},
    {"data":{"name":"ann"},"transform":[{"filter":"datum.kind!='pair'"}],
     "mark":{"type":"text","fontSize":13,"baseline":"middle","align":"center"},
     "encoding":{"x":{"field":"x","type":"quantitative","scale":{"domain":[0.5,8.5],"range":[60.5,308]},"axis":null},
       "y":{"field":"row","type":"nominal","scale":{"type":"point","domain":["SAHA","pair","Thra1","Ncor1"],"range":[761,808],"padding":0},
            "axis":{"orient":"left","offset":-60.5,"domain":false,"ticks":false,"labelPadding":1,"labelExpr":"datum.value == 'pair' ? '' : datum.value + ' :'","labelFont":"Liberation Sans","labelFontStyle":"italic","labelFontWeight":"bold","labelFontSize":12.5,"title":null}},
       "text":{"field":"t"}}},
    {"data":{"name":"ann"},"transform":[{"filter":"datum.kind=='pair'"}],
     "mark":{"type":"rule","strokeWidth":2.5,"strokeCap":"square"},
     "encoding":{"x":{"field":"from","type":"quantitative","scale":{"domain":[0.5,8.5],"range":[60.5,308]},"axis":null},"x2":{"field":"to"},"y":{"field":"row","type":"nominal","scale":{"type":"point","domain":["SAHA","pair","Thra1","Ncor1"],"range":[761,808],"padding":0},"axis":null}}},
    {"data":{"name":"ann"},"transform":[{"filter":"datum.kind=='pair'"},{"fold":["from","to"],"as":["k","xe"]}],
     "mark":{"type":"rule","strokeWidth":2.5,"y2Offset":-7},
     "encoding":{"x":{"field":"xe","type":"quantitative","scale":{"domain":[0.5,8.5],"range":[60.5,308]},"axis":null},"y":{"field":"row","type":"nominal","scale":{"type":"point","domain":["SAHA","pair","Thra1","Ncor1"],"range":[761,808],"padding":0},"axis":null},"y2":{"field":"row"}}},

    {"data":{"name":"pts"},"transform":[{"filter":"datum.panel=='D'"}],
     "mark":{"type":"point","filled":true,"stroke":"black","strokeWidth":1.2,"opacity":1},
     "encoding":{
       "x":{"field":"x","type":"quantitative","scale":{"domain":[0.5,8.5],"range":[495.5,742]},"axis":{"orient":"bottom","offset":-90,"values":[1,2,3,4,5,6,7,8],"labelFontSize":13,"labelPadding":4,"tickSize":8,"title":null}},
       "y":{"field":"v","type":"quantitative","scale":{"domain":[0,0.3],"range":[729,432]},"axis":{"orient":"left","offset":-495.5,"values":[0,0.1,0.2,0.3],"format":".1f","labelFontSize":17,"title":["Thyroid/Body Weight","Ratios (x10⁻³)"],"titleFontSize":17,"titleFontWeight":"normal","titleLineHeight":24,"titlePadding":11,"titleY":576}},
       "shape":{"field":"geno","type":"nominal","scale":{"domain":["WT","ID","PV","PVID"],"range":["circle","triangle-up","diamond","square"]},"legend":null},
       "fill":{"field":"saha","type":"nominal","scale":{"domain":["-","+"],"range":["black","white"]},"legend":null},
       "size":{"condition":{"test":"datum.geno=='PV'","value":34},"value":55}}},
    {"data":{"name":"sum"},"transform":[{"filter":"datum.panel=='D'"}],
     "mark":{"type":"tick","orient":"horizontal","size":24,"thickness":1.5},
     "encoding":{"x":{"field":"g","type":"quantitative","scale":{"domain":[0.5,8.5],"range":[495.5,742]},"axis":null},"y":{"field":"mean","type":"quantitative","scale":{"domain":[0,0.3],"range":[729,432]},"axis":null}}},
    {"data":{"name":"sum"},"transform":[{"filter":"datum.panel=='D'"}],
     "mark":{"type":"rule","strokeWidth":1.5},
     "encoding":{"x":{"field":"g","type":"quantitative","scale":{"domain":[0.5,8.5],"range":[495.5,742]},"axis":null},"y":{"field":"lo","type":"quantitative","scale":{"domain":[0,0.3],"range":[729,432]},"axis":null},"y2":{"field":"hi"}}},
    {"data":{"name":"sum"},"transform":[{"filter":"datum.panel=='D'"},{"fold":["lo","hi"],"as":["k","yv"]}],
     "mark":{"type":"tick","orient":"horizontal","size":12,"thickness":1.5},
     "encoding":{"x":{"field":"g","type":"quantitative","scale":{"domain":[0.5,8.5],"range":[495.5,742]},"axis":null},"y":{"field":"yv","type":"quantitative","scale":{"domain":[0,0.3],"range":[729,432]},"axis":null}}},
    {"data":{"name":"brk"},"transform":[{"filter":"datum.panel=='D'"}],
     "mark":{"type":"rule","strokeWidth":2.5,"strokeCap":"square"},
     "encoding":{"x":{"field":"from","type":"quantitative","scale":{"domain":[0.5,8.5],"range":[495.5,742]},"axis":null},"x2":{"field":"to"},"y":{"field":"h","type":"quantitative","scale":{"domain":[0,0.3],"range":[729,432]},"axis":null}}},
    {"data":{"name":"brk"},"transform":[{"filter":"datum.panel=='D'"},{"fold":["from","to"],"as":["k","xe"]}],
     "mark":{"type":"tick","orient":"vertical","size":8,"thickness":2.5,"yOffset":3.5},
     "encoding":{"x":{"field":"xe","type":"quantitative","scale":{"domain":[0.5,8.5],"range":[495.5,742]},"axis":null},"y":{"field":"h","type":"quantitative","scale":{"domain":[0,0.3],"range":[729,432]},"axis":null}}},
    {"data":{"name":"brk"},"transform":[{"filter":"datum.panel=='D'"}],
     "mark":{"type":"text","baseline":"alphabetic","align":"center","dy":-4.5},
     "encoding":{"x":{"field":"mid","type":"quantitative","scale":{"domain":[0.5,8.5],"range":[495.5,742]},"axis":null},"y":{"field":"h","type":"quantitative","scale":{"domain":[0,0.3],"range":[729,432]},"axis":null},"text":{"field":"label"},
       "size":{"condition":{"test":"datum.label=='NS'","value":16},"value":13}}},
    {"data":{"values":[{"t":"D"}]},
     "mark":{"type":"text","fontSize":19,"baseline":"middle","align":"center"},
     "encoding":{"x":{"datum":-2.93,"type":"quantitative","scale":{"domain":[0.5,8.5],"range":[495.5,742]},"axis":null},"y":{"datum":0.313,"type":"quantitative","scale":{"domain":[0,0.3],"range":[729,432]},"axis":null},"text":{"field":"t"}}},
    {"data":{"name":"ann"},"transform":[{"filter":"datum.kind!='pair'"}],
     "mark":{"type":"text","fontSize":13,"baseline":"middle","align":"center"},
     "encoding":{"x":{"field":"x","type":"quantitative","scale":{"domain":[0.5,8.5],"range":[495.5,742]},"axis":null},
       "y":{"field":"row","type":"nominal","scale":{"type":"point","domain":["SAHA","pair","Thra1","Ncor1"],"range":[761,808],"padding":0},
            "axis":{"orient":"left","offset":-495.5,"domain":false,"ticks":false,"labelPadding":2,"labelExpr":"datum.value == 'pair' ? '' : datum.value + ' :'","labelFont":"Liberation Sans","labelFontStyle":"italic","labelFontWeight":"bold","labelFontSize":15,"title":null}},
       "text":{"field":"t"}}},
    {"data":{"name":"ann"},"transform":[{"filter":"datum.kind=='pair'"}],
     "mark":{"type":"rule","strokeWidth":2.5,"strokeCap":"square"},
     "encoding":{"x":{"field":"from","type":"quantitative","scale":{"domain":[0.5,8.5],"range":[495.5,742]},"axis":null},"x2":{"field":"to"},"y":{"field":"row","type":"nominal","scale":{"type":"point","domain":["SAHA","pair","Thra1","Ncor1"],"range":[761,808],"padding":0},"axis":null}}},
    {"data":{"name":"ann"},"transform":[{"filter":"datum.kind=='pair'"},{"fold":["from","to"],"as":["k","xe"]}],
     "mark":{"type":"rule","strokeWidth":2.5,"y2Offset":-7},
     "encoding":{"x":{"field":"xe","type":"quantitative","scale":{"domain":[0.5,8.5],"range":[495.5,742]},"axis":null},"y":{"field":"row","type":"nominal","scale":{"type":"point","domain":["SAHA","pair","Thra1","Ncor1"],"range":[761,808],"padding":0},"axis":null},"y2":{"field":"row"}}}
  ],
  "resolve": {"scale": {"x": "independent", "y": "independent"}, "axis": {"x": "independent", "y": "independent"}}
}
